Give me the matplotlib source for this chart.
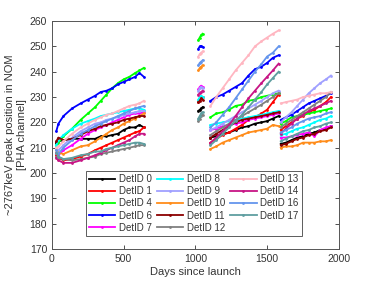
import numpy as np
import matplotlib
matplotlib.use("Agg")
import matplotlib.pyplot as plt

# observation days for the four campaigns
days_a = [30, 45, 80, 140, 200, 250, 300, 340, 380, 420, 460, 500, 540, 580, 610, 640]
days_b = [1020, 1030, 1040, 1050]
days_c = [1105, 1145, 1190, 1235, 1280, 1325, 1370, 1415, 1460, 1500, 1540, 1580]
days_d = [1595, 1630, 1670, 1710, 1750, 1790, 1830, 1870, 1910, 1945]

det0 = ([212, 212.5, 213, 213.5, 213.5, 213.5, 213.5, 214.5, 214.5, 215, 215.5, 217, 218, 218, 219, 218],
        [224.5, 225, 225.5, 226],
        [214, 214.5, 215.5, 216, 217, 218, 218.5, 219.5, 220, 220.5, 221.5, 222.5],
        [211.5, 212, 213, 214, 214.5, 215.5, 216, 217, 217.5, 218.5])
det1 = ([207, 206, 205, 205.5, 206.5, 207.5, 209, 210, 211, 212, 213, 214, 215, 216, 216.5, 218],
        [228, 229, 229.5, 230],
        [212, 213.5, 215, 216, 217.5, 219, 221, 222, 223.5, 225, 228, 231],
        [217, 218.5, 220, 221.5, 222.5, 224, 225, 226.5, 228, 230])
det4 = ([211, 212, 214.5, 217.5, 221, 223.5, 226, 228.5, 231, 233.5, 235.5, 237, 238, 239.5, 240.5, 241.5],
        [252.5, 253.5, 254.5, 255],
        [222, 223.5, 224, 225, 226.5, 227, 228.5, 229, 230, 230.5, 231, 231.5],
        [219.5, 220.5, 222, 222.5, 223, 223.5, 224, 224.5, 225, 225.5])
det6 = ([216.5, 219.5, 222.5, 225.5, 227.5, 229, 230.5, 232, 232.5, 233.5, 235, 236, 237, 238, 239.5, 238],
        [249, 250, 250.2, 249.8],
        [228.5, 230, 231, 232.5, 234, 235.5, 238.5, 241, 242, 243.5, 245.5, 246.5],
        [221, 222, 223, 224.5, 226, 227.5, 228.5, 229.5, 230.5, 231.5])
det7 = ([208, 207, 209, 211, 213.5, 215.5, 217, 218, 219, 220, 221, 222, 223, 223.5, 223.5, 224],
        [233, 234, 234.5, 234],
        [217, 217.5, 218.5, 219, 219.5, 220, 221, 221.5, 222, 222.5, 223, 223.5],
        [214, 214, 214.5, 215, 215.5, 216, 214.5, 217, 218, 218.5])
det8 = ([211, 213, 215, 217.5, 219.5, 220.5, 221.5, 222.5, 223, 223.5, 224, 224.5, 225, 225.5, 225.5, 225],
        [229, 230, 230.5, 230],
        [219, 219.5, 220, 220.5, 221, 221.5, 222, 222.5, 223, 223.5, 224, 224.5],
        [215, 215.5, 216.5, 217.5, 218, 219, 220, 221, 221.5, 222.5])
det9 = ([210, 209, 211, 214, 216.5, 218, 219.5, 220, 221, 221.5, 222, 223, 223.5, 224, 224.5, 224.5],
        [232.5, 233.5, 234, 233.5],
        [217, 218, 219.5, 221, 222.5, 224, 225.5, 227, 228.5, 230, 231.5, 232.5],
        [220, 222, 224, 226.5, 229, 231.5, 233.5, 235.5, 237, 238.5])
det10 = ([209, 208, 207.5, 209, 210.5, 211, 212.5, 214, 215.5, 217, 218, 219.5, 220.5, 221.5, 222.5, 223.5],
         [240.5, 241.5, 242, 242.5],
         [209.5, 210.5, 212, 213, 214, 215, 216, 216.5, 217, 217.5, 219, 218.5],
         [210, 210.5, 210.5, 211, 212, 212, 212, 212.5, 212.5, 213])
det11 = ([212.5, 214, 213, 213.5, 215, 216.5, 217.5, 218.5, 219, 219.5, 220, 221, 221.5, 222, 222.5, 222.5],
         [228, 228.5, 229.5, 229],
         [214, 215.5, 217, 218.5, 220, 221, 221.5, 222, 222.5, 223, 223.5, 224],
         [211, 211.5, 212.5, 213.5, 214, 215, 215.5, 216.5, 217, 218])
det12 = ([206.5, 206, 205.5, 205, 205.5, 206, 206.5, 207.5, 208, 208.5, 209, 209.5, 210, 210.5, 211, 211],
         [220.5, 221.5, 222.5, 223],
         [215, 216.5, 218, 219.5, 221, 222.5, 224, 225.5, 227, 228.5, 230, 231.5],
         [218, 219.5, 221, 222.5, 224, 225.5, 227, 228.5, 230, 232])
det13 = ([210, 210.5, 212.5, 215.5, 218, 219.5, 221, 222, 223, 223.5, 224.5, 225.5, 226.5, 227, 227.5, 228.5],
         [246, 247, 247.5, 248],
         [226.5, 230, 233.5, 237, 240.5, 243.5, 246.5, 250, 252, 253.5, 255, 256.3],
         [227.5, 228, 228.5, 229, 230, 230.5, 231, 231.5, 231.5, 232])
det14 = ([206, 205, 204, 204, 205, 206, 207, 208, 209, 210, 211, 212, 213, 214.5, 215.5, 215.5],
         [231, 231.5, 232, 232.5],
         [212, 214, 216.5, 219, 222.5, 226, 229.5, 232.5, 235.5, 238, 240.5, 243.2],
         [215.5, 217.5, 219.5, 221.5, 223, 224.5, 225.5, 226.5, 227.5, 228.5])
det16 = ([209, 207.5, 210, 213, 215.5, 217, 218.5, 219.5, 220.5, 221.5, 222.5, 223.5, 224.5, 225.5, 226, 226.5],
         [242.5, 243.5, 244, 244.5],
         [218, 220, 223, 226, 229.5, 233, 236.5, 240, 243, 246, 247.5, 250],
         [216, 217, 218, 219.5, 220.5, 221.5, 222, 222.5, 223.5, 224])
det17 = ([208, 206.5, 205.5, 206, 207, 207.5, 208.5, 208.5, 209.5, 210, 210.5, 211, 211.5, 212, 212, 211.5],
         [221.5, 222.5, 223.5, 224],
         [211, 213, 215.5, 218, 220.5, 223, 226, 229, 232, 235, 237.5, 240],
         [212.5, 213.5, 214.5, 215.5, 216.5, 217, 218, 218.5, 219.5, 220])

det_ids = [0, 1, 4, 6, 7, 8, 9, 10, 11, 12, 13, 14, 16, 17]
det_data = [det0, det1, det4, det6, det7, det8, det9, det10, det11, det12, det13, det14, det16, det17]
colors = ["#000000", "#ff0000", "#00ff00", "#0000ff", "#ff00ff", "#00ffff", "#a0a0ff",
          "#ff8c1a", "#8b0000", "#808080", "#ffb6c1", "#c71585", "#6495ed", "#5f9ea0"]

plt.rcParams["font.family"] = ["Liberation Sans", "DejaVu Sans"]
text_col = "#333333"

fig = plt.figure(figsize=(3.74, 2.81), dpi=100)
ax = fig.add_axes([0.139, 0.114, 0.767, 0.811])

for det, vals, col in zip(det_ids, det_data, colors):
    x = days_a + [np.nan] + days_b + [np.nan] + days_c + [np.nan] + days_d
    y = list(vals[0]) + [np.nan] + list(vals[1]) + [np.nan] + list(vals[2]) + [np.nan] + list(vals[3])
    ax.plot(x, y, color=col, lw=1.3, marker="o", ms=2.0, mew=0, label=f"DetID {det}")

ax.set_xlim(0, 2000)
ax.set_ylim(170, 260)
ax.set_xticks([0, 500, 1000, 1500, 2000])
ax.set_yticks(np.arange(170, 261, 10))
ax.tick_params(direction="in", top=True, right=True, labelsize=7.5,
               colors=text_col, length=3, width=0.6)
for s in ax.spines.values():
    s.set_color("#555555")
    s.set_linewidth(0.7)

ax.set_xlabel("Days since launch", fontsize=8, color=text_col, labelpad=2)
ax.set_ylabel("~2767keV peak position in NOM\n[PHA channel]", fontsize=8,
              color=text_col, labelpad=2)

leg = ax.legend(loc="lower center", bbox_to_anchor=(0.495, 0.035), ncol=3,
                fontsize=7, frameon=True, fancybox=False, edgecolor="#333333",
                handlelength=2.7, handletextpad=0.4, columnspacing=0.5,
                labelspacing=0.22, borderpad=0.35)
leg.get_frame().set_linewidth(0.7)
for t in leg.get_texts():
    t.set_color(text_col)

fig.savefig("out.png", dpi=100)
